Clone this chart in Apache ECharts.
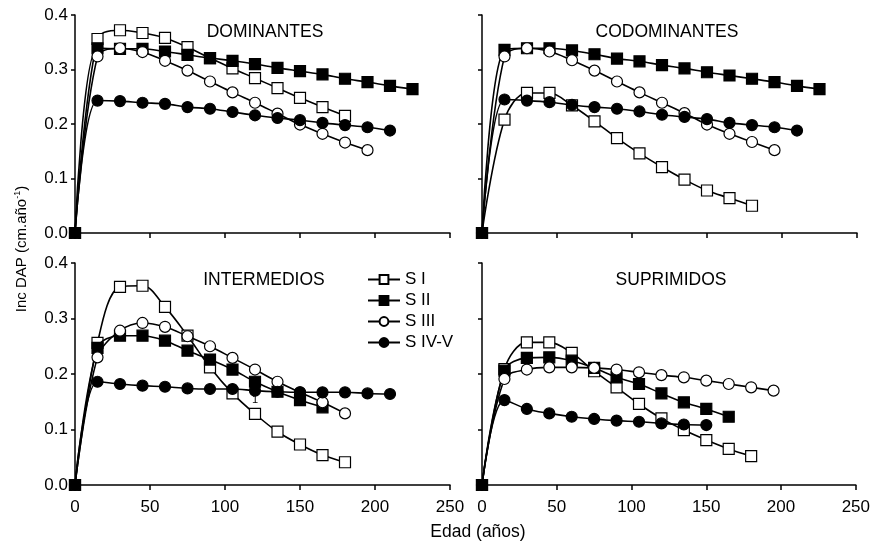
<!DOCTYPE html>
<html>
<head>
<meta charset="utf-8">
<script src="https://cdn.jsdelivr.net/npm/echarts@6/dist/echarts.min.js"></script>
<style>
  html, body { margin: 0; padding: 0; background: #fff; }
  #chart { width: 873px; height: 544px; }
</style>
</head>
<body>
<div id="chart"></div>
<script>
// edades (años), cada 15
var ages = [0, 15, 30, 45, 60, 75, 90, 105, 120, 135, 150, 165, 180, 195, 210, 225];
var seriesNames = ['S I', 'S II', 'S III', 'S IV-V'];
var panelTitles = ['DOMINANTES', 'CODOMINANTES', 'INTERMEDIOS', 'SUPRIMIDOS'];
var xTicks = [0, 50, 100, 150, 200, 250];
var yTicks = [0, 0.1, 0.2, 0.3, 0.4];

// DOMINANTES
var domSI = [0, 0.356, 0.372, 0.367, 0.358, 0.341, 0.321, 0.302, 0.284, 0.266, 0.248, 0.231, 0.215];
var domSII = [0, 0.339, 0.338, 0.338, 0.333, 0.327, 0.321, 0.316, 0.310, 0.303, 0.297, 0.291, 0.283, 0.277, 0.270, 0.264];
var domSIII = [0, 0.324, 0.339, 0.332, 0.316, 0.298, 0.278, 0.258, 0.239, 0.219, 0.199, 0.182, 0.166, 0.152];
var domSIV = [0, 0.243, 0.242, 0.239, 0.237, 0.231, 0.228, 0.222, 0.216, 0.211, 0.207, 0.202, 0.198, 0.194, 0.188];

// CODOMINANTES
var codSI = [0, 0.208, 0.257, 0.257, 0.234, 0.205, 0.174, 0.146, 0.121, 0.098, 0.078, 0.064, 0.050];
var codSII = [0, 0.336, 0.339, 0.339, 0.335, 0.328, 0.320, 0.315, 0.308, 0.302, 0.295, 0.289, 0.283, 0.277, 0.270, 0.264];
var codSIII = [0, 0.324, 0.339, 0.333, 0.317, 0.298, 0.278, 0.258, 0.239, 0.220, 0.199, 0.182, 0.167, 0.152];
var codSIV = [0, 0.245, 0.243, 0.240, 0.235, 0.231, 0.228, 0.223, 0.217, 0.213, 0.209, 0.202, 0.198, 0.194, 0.188];

// INTERMEDIOS
var intSI = [0, 0.256, 0.357, 0.359, 0.321, 0.269, 0.212, 0.165, 0.128, 0.096, 0.073, 0.054, 0.041];
var intSII = [0, 0.247, 0.269, 0.269, 0.260, 0.242, 0.226, 0.208, 0.186, 0.168, 0.153, 0.140];
var intSIII = [0, 0.230, 0.278, 0.292, 0.285, 0.268, 0.250, 0.229, 0.208, 0.186, 0.167, 0.149, 0.129];
var intSIV = [0, 0.186, 0.182, 0.179, 0.177, 0.174, 0.173, 0.173, 0.170, 0.168, 0.167, 0.167, 0.167, 0.165, 0.164];

// SUPRIMIDOS
var supSI = [0, 0.209, 0.257, 0.257, 0.238, 0.205, 0.176, 0.146, 0.120, 0.099, 0.081, 0.065, 0.052];
var supSII = [0, 0.206, 0.229, 0.230, 0.224, 0.211, 0.194, 0.182, 0.165, 0.149, 0.137, 0.123];
var supSIII = [0, 0.191, 0.208, 0.212, 0.212, 0.211, 0.208, 0.203, 0.198, 0.194, 0.188, 0.182, 0.176, 0.170];
var supSIV = [0, 0.153, 0.137, 0.129, 0.123, 0.119, 0.116, 0.114, 0.111, 0.109, 0.108];

var panels = [
  [domSI, domSII, domSIII, domSIV],
  [codSI, codSII, codSIII, codSIV],
  [intSI, intSII, intSIII, intSIV],
  [supSI, supSII, supSIII, supSIV]
];

var FONT = '"Liberation Sans", Arial, sans-serif';

// estilo de marcador por serie
var markers = [
  { symbol: 'rect', fill: '#fff', size: 11 },
  { symbol: 'rect', fill: '#000', size: 11 },
  { symbol: 'circle', fill: '#fff', size: 11 },
  { symbol: 'circle', fill: '#000', size: 11 }
];

var grids = [
  { left: 75, top: 15, width: 375, height: 218 },
  { left: 482, top: 15, width: 375, height: 218 },
  { left: 75, top: 263, width: 375, height: 222 },
  { left: 482, top: 263, width: 375, height: 222 }
];
var titleX = [260, 662, 259, 666];

var chart = echarts.init(document.getElementById('chart'));

var xAxes = [], yAxes = [], series = [], titles = [];
grids.forEach(function (g, i) {
  var bottomRow = i >= 2;
  xAxes.push({
    type: 'value', gridIndex: i, min: xTicks[0], max: xTicks[xTicks.length - 1], interval: 50,
    axisLine: { show: true, lineStyle: { color: '#000', width: 1.5 } },
    axisTick: { show: true, inside: false, length: 5, lineStyle: { color: '#000', width: 1.5 } },
    axisLabel: { show: bottomRow, color: '#000', fontSize: 17, fontFamily: FONT, margin: 14 },
    splitLine: { show: false }
  });
  yAxes.push({
    type: 'value', gridIndex: i, min: yTicks[0], max: yTicks[yTicks.length - 1], interval: 0.1,
    axisLine: { show: true, lineStyle: { color: '#000', width: 1.5 } },
    axisTick: { show: true, inside: false, length: 4, lineStyle: { color: '#000', width: 1.5 } },
    axisLabel: { show: i % 2 === 0, color: '#000', fontSize: 17, fontFamily: FONT, margin: 7,
      formatter: function (v) { return v.toFixed(1); } },
    splitLine: { show: false }
  });
  titles.push({
    text: panelTitles[i],
    left: titleX[i],
    top: g.top + 3,
    textAlign: 'center',
    textStyle: { color: '#000', fontSize: 17.5, fontWeight: 'normal', fontFamily: FONT }
  });
  panels[i].forEach(function (vals, k) {
    var m = markers[k];
    series.push({
      name: seriesNames[k],
      type: 'line',
      xAxisIndex: i, yAxisIndex: i,
      smooth: 0.35,
      data: vals.map(function (v, j) { return [ages[j], v]; }),
      symbol: m.symbol,
      symbolSize: m.size,
      showAllSymbol: true,
      lineStyle: { color: '#000', width: 1.6 },
      itemStyle: { color: m.fill, borderColor: '#000', borderWidth: 1.2 },
      z: 2 + k,
      animation: false
    });
  });
});

chart.setOption({
  backgroundColor: '#fff',
  animation: false,
  title: titles,
  grid: grids,
  xAxis: xAxes,
  yAxis: yAxes,
  series: series,
  legend: {
    data: seriesNames,
    orient: 'vertical',
    left: 362, top: 266,
    itemWidth: 32, itemHeight: 11, itemGap: 4,
    textStyle: { color: '#000', fontSize: 17, fontFamily: FONT }
  },
  graphic: [
    {
      type: 'text', x: 22, y: 249, rotation: Math.PI / 2,
      style: {
        text: 'Inc DAP (cm.año{s|-1})',
        rich: { s: { fontSize: 9, verticalAlign: 'top', padding: [0, 0, 8, 0], fontFamily: FONT } },
        fill: '#000', font: '15px ' + FONT,
        align: 'center', verticalAlign: 'middle'
      }
    },
    {
      type: 'text', x: 478, y: 532,
      style: {
        text: 'Edad (años)', fill: '#000', font: '17.5px ' + FONT,
        align: 'center', verticalAlign: 'middle'
      }
    },
    {
      type: 'text', x: 252, y: 394,
      style: { text: '1', fill: '#000', font: '11px ' + FONT }
    }
  ]
});
</script>
</body>
</html>
